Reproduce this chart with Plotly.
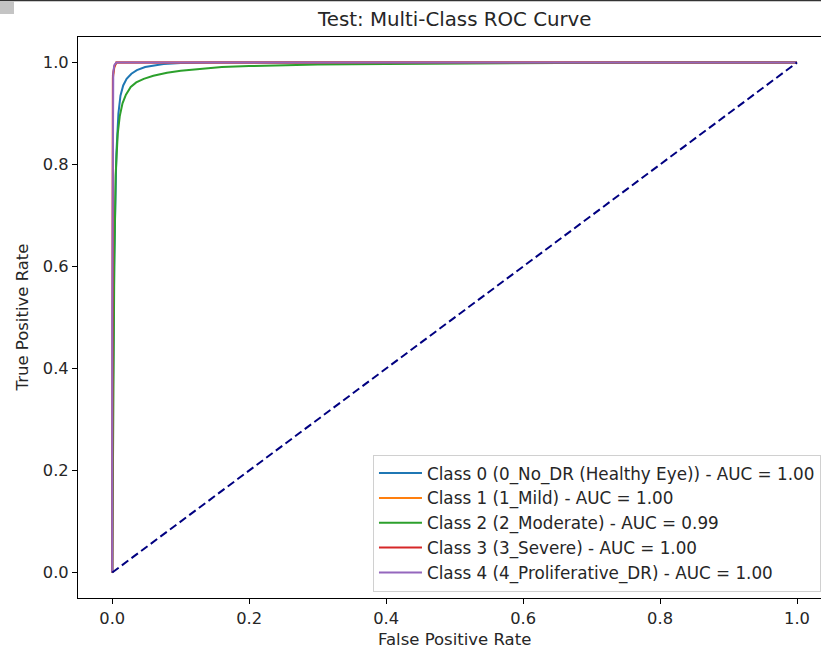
import plotly.graph_objects as go

# ROC operating points (false positive rate / true positive rate) per class
class_names = [
    "Class 0 (0_No_DR (Healthy Eye))",
    "Class 1 (1_Mild)",
    "Class 2 (2_Moderate)",
    "Class 3 (3_Severe)",
    "Class 4 (4_Proliferative_DR)",
]
auc_values = [1.00, 1.00, 0.99, 1.00, 1.00]
class_colors = ["#1f77b4", "#ff7f0e", "#2ca02c", "#d62728", "#9467bd"]

fpr_class0 = [0.0, 0.001, 0.003, 0.006, 0.009, 0.012, 0.016, 0.021, 0.028, 0.036,
              0.048, 0.06, 0.075, 0.1, 0.15, 1.0]
tpr_class0 = [0.0, 0.35, 0.62, 0.82, 0.90, 0.935, 0.955, 0.968, 0.978, 0.985,
              0.991, 0.994, 0.997, 0.999, 1.0, 1.0]

fpr_class1 = [0.0, 0.0, 0.001, 0.003, 0.006, 1.0]
tpr_class1 = [0.0, 0.6, 0.97, 0.99, 1.0, 1.0]

fpr_class2 = [0.0, 0.001, 0.003, 0.005, 0.008, 0.011, 0.015, 0.02, 0.027, 0.035,
              0.046, 0.06, 0.08, 0.1, 0.13, 0.16, 0.2, 0.25, 0.3, 0.4, 0.5, 0.6,
              0.8, 1.0]
tpr_class2 = [0.0, 0.30, 0.60, 0.78, 0.86, 0.895, 0.92, 0.937, 0.952, 0.961,
              0.968, 0.974, 0.98, 0.984, 0.988, 0.991, 0.993, 0.995, 0.996, 0.997,
              0.998, 0.999, 1.0, 1.0]

fpr_class3 = [0.0, 0.0, 0.001, 0.003, 0.006, 1.0]
tpr_class3 = [0.0, 0.55, 0.975, 0.992, 1.0, 1.0]

fpr_class4 = [0.0, 0.0, 0.0015, 0.003, 0.006, 1.0]
tpr_class4 = [0.0, 0.5, 0.98, 0.995, 1.0, 1.0]

chance_fpr = [0.0, 1.0]
chance_tpr = [0.0, 1.0]

x_ticks = [0.0, 0.2, 0.4, 0.6, 0.8, 1.0]
y_ticks = [0.0, 0.2, 0.4, 0.6, 0.8, 1.0]

fpr_all = [fpr_class0, fpr_class1, fpr_class2, fpr_class3, fpr_class4]
tpr_all = [tpr_class0, tpr_class1, tpr_class2, tpr_class3, tpr_class4]

FONT = "DejaVu Sans"
fig = go.Figure()

for i, name in enumerate(class_names):
    fig.add_trace(go.Scatter(
        x=fpr_all[i], y=tpr_all[i], mode="lines",
        name=f"{name} - AUC = {auc_values[i]:.2f}",
        line=dict(color=class_colors[i], width=2),
        hoverinfo="skip",
    ))

fig.add_trace(go.Scatter(
    x=chance_fpr, y=chance_tpr, mode="lines", showlegend=False,
    line=dict(color="#000080", width=2, dash="8px,4px"),
    hoverinfo="skip",
))

axis_common = dict(
    showgrid=False, zeroline=False, showline=True, linecolor="black",
    linewidth=1, ticks="outside", ticklen=5, tickwidth=1, tickcolor="black",
    tickfont=dict(family=FONT, size=16.3, color="#262626"),
    tickformat=".1f",
)

fig.update_layout(
    width=821, height=648,
    margin=dict(l=78, r=0, t=37, b=50, pad=0),
    paper_bgcolor="white", plot_bgcolor="white",
    font=dict(family=FONT, size=16, color="#262626"),
    xaxis=dict(range=[-0.05, 1.035], tickvals=x_ticks, mirror=True,
               automargin=False, **axis_common),
    yaxis=dict(range=[-0.05, 1.05], tickvals=y_ticks,
               automargin=False, **axis_common),
    legend=dict(
        x=0.397, y=0.2555, xanchor="left", yanchor="top",
        bgcolor="rgba(255,255,255,0.8)", bordercolor="#d0d0d0", borderwidth=1,
        font=dict(family=FONT, size=16.8, color="#262626"),
        tracegroupgap=0, itemwidth=43,
    ),
    showlegend=True,
    annotations=[
        dict(text="Test: Multi-Class ROC Curve", xref="paper", yref="paper",
             x=0.5074, y=(598 - 19.5) / 561, xanchor="center", yanchor="middle",
             showarrow=False, font=dict(family=FONT, size=19.8, color="#262626")),
        dict(text="False Positive Rate", xref="paper", yref="paper",
             x=0.5074, y=(598 - 639) / 561, xanchor="center", yanchor="middle",
             showarrow=False, font=dict(family=FONT, size=16.5, color="#262626")),
        dict(text="True Positive Rate", xref="paper", yref="paper",
             x=(22 - 78) / 743, y=0.5, xanchor="center", yanchor="middle",
             textangle=-90, showarrow=False,
             font=dict(family=FONT, size=16.5, color="#262626")),
    ],
    shapes=[
        dict(type="line", xref="paper", yref="paper",
             x0=-78 / 743, x1=1.0, y0=(598 - 0.5) / 561, y1=(598 - 0.5) / 561,
             line=dict(color="#333333", width=1.5)),
        dict(type="rect", xref="paper", yref="paper",
             x0=-78 / 743, x1=(14 - 78) / 743, y0=(598 - 14) / 561, y1=(598 - 1) / 561,
             fillcolor="#c4c4c4", line=dict(width=0)),
    ],
)

fig.write_html("out.html", config=dict(displayModeBar=False))
